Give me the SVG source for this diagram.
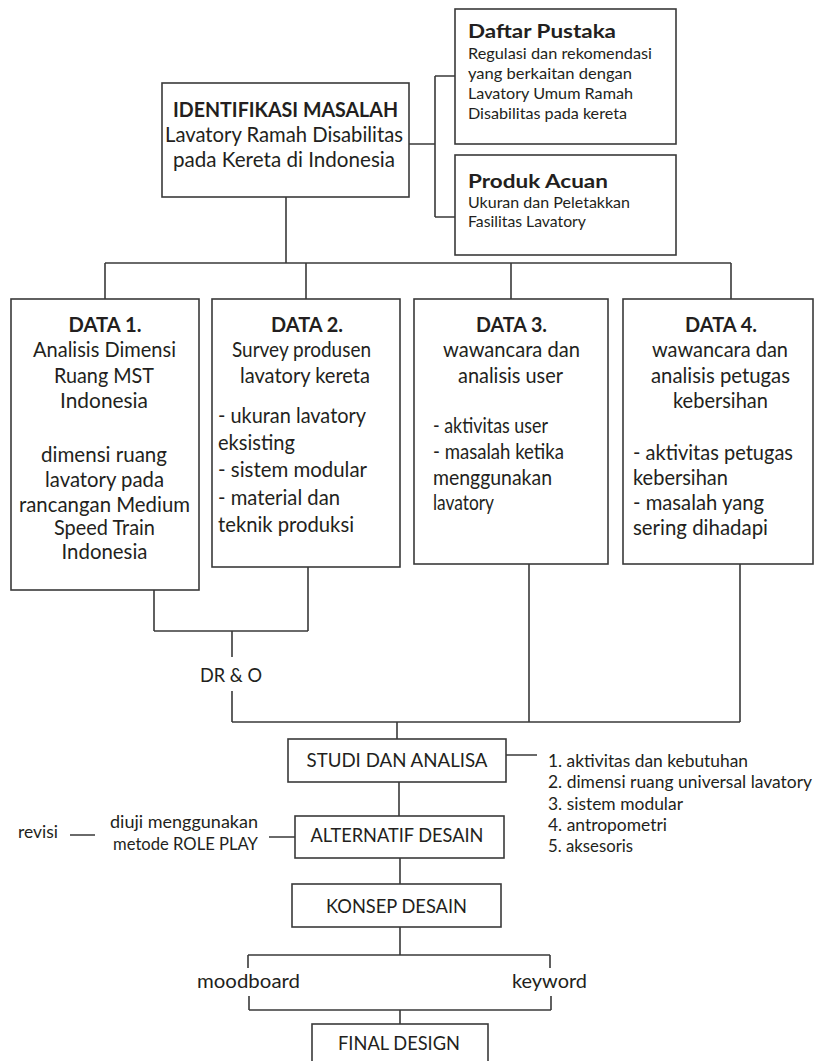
<svg xmlns="http://www.w3.org/2000/svg" width="815" height="1061" viewBox="0 0 815 1061">
<style>
  .box { fill: #ffffff; stroke: #3a3a3a; stroke-width: 1.6; }
  .ln { fill: none; stroke: #3a3a3a; stroke-width: 1.6; }
  text { font-family: Lato, "Open Sans", "Liberation Sans", sans-serif; fill: #231f20; }
  .b { font-weight: 700; }
  .c { text-anchor: middle; }
  .t19 { font-size: 20.5px; }
  .t18 { font-size: 20.5px; }
  .tt { font-size: 19.5px; }
  .t14 { font-size: 16px; }
  .t17 { font-size: 19px; }
  .t16 { font-size: 17.5px; }
  .tm { font-size: 19.5px; }
</style>
<rect width="815" height="1061" fill="#ffffff"/>

<g id="connectors">
  <path class="ln" d="M409,144 H435 M435,76 V217 M435,76 H455 M435,217 H455"/>
  <path class="ln" d="M286,197 V263 M105,263 H731 M105,263 V299 M306,263 V299 M511,263 V299 M731,263 V299"/>
  <path class="ln" d="M154,590 V631 M308,567 V631 M154,631 H308 M232,631 V657 M232,691 V722 M232,722 H740 M529,564 V722 M740,564 V722 M397,722 V739"/>
  <path class="ln" d="M506,755 H537 M399,782 V816 M269,837 H295 M70,835 H95 M400,858 V884"/>
  <path class="ln" d="M400,927 V955 M248,955 H550 M248,955 V968 M550,955 V968 M249,996 V1010 M551,996 V1010 M249,1010 H551 M400,1010 V1024"/>
</g>

<g id="identifikasi">
  <rect class="box" x="162" y="83" width="247" height="114"/>
  <text class="b c t19" x="285.5" y="117" textLength="225" lengthAdjust="spacingAndGlyphs">IDENTIFIKASI MASALAH</text>
  <text class="c t19" x="284" y="142" textLength="238" lengthAdjust="spacingAndGlyphs">Lavatory Ramah Disabilitas</text>
  <text class="c t19" x="284" y="167" textLength="222" lengthAdjust="spacingAndGlyphs">pada Kereta di Indonesia</text>
</g>

<g id="daftar-pustaka">
  <rect class="box" x="455" y="9" width="221" height="135"/>
  <text class="b tt" x="468" y="38" textLength="148" lengthAdjust="spacingAndGlyphs">Daftar Pustaka</text>
  <text class="t14" x="468" y="59" textLength="184" lengthAdjust="spacingAndGlyphs">Regulasi dan rekomendasi</text>
  <text class="t14" x="468" y="79" textLength="164" lengthAdjust="spacingAndGlyphs">yang berkaitan dengan</text>
  <text class="t14" x="468" y="99" textLength="165" lengthAdjust="spacingAndGlyphs">Lavatory Umum Ramah</text>
  <text class="t14" x="468" y="119" textLength="159" lengthAdjust="spacingAndGlyphs">Disabilitas pada kereta</text>
</g>

<g id="produk-acuan">
  <rect class="box" x="455" y="155" width="221" height="100"/>
  <text class="b tt" x="468" y="188" textLength="140" lengthAdjust="spacingAndGlyphs">Produk Acuan</text>
  <text class="t14" x="468" y="208" textLength="162" lengthAdjust="spacingAndGlyphs">Ukuran dan Peletakkan</text>
  <text class="t14" x="468" y="227" textLength="118" lengthAdjust="spacingAndGlyphs">Fasilitas Lavatory</text>
</g>

<g id="data1">
  <rect class="box" x="11" y="299" width="188" height="291"/>
  <text class="b c t19" x="105" y="332" textLength="73" lengthAdjust="spacingAndGlyphs">DATA 1.</text>
  <text class="c t18" x="104.5" y="357" textLength="143" lengthAdjust="spacingAndGlyphs">Analisis Dimensi</text>
  <text class="c t18" x="104" y="383" textLength="100" lengthAdjust="spacingAndGlyphs">Ruang MST</text>
  <text class="c t18" x="104" y="408" textLength="88" lengthAdjust="spacingAndGlyphs">Indonesia</text>
  <text class="c t18" x="104" y="462" textLength="126" lengthAdjust="spacingAndGlyphs">dimensi ruang</text>
  <text class="c t18" x="104.5" y="487" textLength="119" lengthAdjust="spacingAndGlyphs">lavatory pada</text>
  <text class="c t18" x="104.5" y="512" textLength="171" lengthAdjust="spacingAndGlyphs">rancangan Medium</text>
  <text class="c t18" x="104.5" y="535" textLength="101" lengthAdjust="spacingAndGlyphs">Speed Train</text>
  <text class="c t18" x="104.5" y="559" textLength="86" lengthAdjust="spacingAndGlyphs">Indonesia</text>
</g>

<g id="data2">
  <rect class="box" x="212" y="299" width="188" height="268"/>
  <text class="b c t19" x="307" y="332" textLength="72" lengthAdjust="spacingAndGlyphs">DATA 2.</text>
  <text class="c t18" x="301.5" y="357" textLength="139" lengthAdjust="spacingAndGlyphs">Survey produsen</text>
  <text class="c t18" x="305" y="383" textLength="130" lengthAdjust="spacingAndGlyphs">lavatory kereta</text>
  <text class="t18" x="218" y="423" textLength="148" lengthAdjust="spacingAndGlyphs">- ukuran lavatory</text>
  <text class="t18" x="218" y="450" textLength="77" lengthAdjust="spacingAndGlyphs">eksisting</text>
  <text class="t18" x="218" y="477" textLength="149" lengthAdjust="spacingAndGlyphs">- sistem modular</text>
  <text class="t18" x="218" y="505" textLength="122" lengthAdjust="spacingAndGlyphs">- material dan</text>
  <text class="t18" x="218" y="532" textLength="136" lengthAdjust="spacingAndGlyphs">teknik produksi</text>
</g>

<g id="data3">
  <rect class="box" x="414" y="299" width="194" height="265"/>
  <text class="b c t19" x="511.5" y="332" textLength="71" lengthAdjust="spacingAndGlyphs">DATA 3.</text>
  <text class="c t18" x="511.5" y="357" textLength="137" lengthAdjust="spacingAndGlyphs">wawancara dan</text>
  <text class="c t18" x="510.5" y="383" textLength="105" lengthAdjust="spacingAndGlyphs">analisis user</text>
  <text class="t18" x="433" y="433" textLength="115" lengthAdjust="spacingAndGlyphs">- aktivitas user</text>
  <text class="t18" x="433" y="459" textLength="131" lengthAdjust="spacingAndGlyphs">- masalah ketika</text>
  <text class="t18" x="433" y="485" textLength="119" lengthAdjust="spacingAndGlyphs">menggunakan</text>
  <text class="t18" x="433" y="510" textLength="61" lengthAdjust="spacingAndGlyphs">lavatory</text>
</g>

<g id="data4">
  <rect class="box" x="623" y="299" width="190" height="265"/>
  <text class="b c t19" x="721" y="332" textLength="72" lengthAdjust="spacingAndGlyphs">DATA 4.</text>
  <text class="c t18" x="720" y="357" textLength="136" lengthAdjust="spacingAndGlyphs">wawancara dan</text>
  <text class="c t18" x="720.5" y="383" textLength="139" lengthAdjust="spacingAndGlyphs">analisis petugas</text>
  <text class="c t18" x="720.5" y="408" textLength="95" lengthAdjust="spacingAndGlyphs">kebersihan</text>
  <text class="t18" x="633" y="460" textLength="160" lengthAdjust="spacingAndGlyphs">- aktivitas petugas</text>
  <text class="t18" x="633" y="485" textLength="95" lengthAdjust="spacingAndGlyphs">kebersihan</text>
  <text class="t18" x="633" y="510" textLength="131" lengthAdjust="spacingAndGlyphs">- masalah yang</text>
  <text class="t18" x="633" y="535" textLength="135" lengthAdjust="spacingAndGlyphs">sering dihadapi</text>
</g>

<g id="dro">
  <text class="c tm" x="231" y="682" textLength="62" lengthAdjust="spacingAndGlyphs">DR &amp; O</text>
</g>

<g id="studi">
  <rect class="box" x="288" y="739" width="218" height="43"/>
  <text class="c t17" x="397" y="767" textLength="181" lengthAdjust="spacingAndGlyphs">STUDI DAN ANALISA</text>
</g>

<g id="studi-list">
  <text class="t16" x="548" y="767" textLength="200" lengthAdjust="spacingAndGlyphs">1. aktivitas dan kebutuhan</text>
  <text class="t16" x="548" y="788" textLength="264" lengthAdjust="spacingAndGlyphs">2. dimensi ruang universal lavatory</text>
  <text class="t16" x="548" y="810" textLength="135" lengthAdjust="spacingAndGlyphs">3. sistem modular</text>
  <text class="t16" x="548" y="831" textLength="119" lengthAdjust="spacingAndGlyphs">4. antropometri</text>
  <text class="t16" x="548" y="852" textLength="85" lengthAdjust="spacingAndGlyphs">5. aksesoris</text>
</g>

<g id="alternatif">
  <rect class="box" x="295" y="816" width="209" height="42"/>
  <text class="c t17" x="397" y="842" textLength="173" lengthAdjust="spacingAndGlyphs">ALTERNATIF DESAIN</text>
</g>

<g id="uji">
  <text class="c t16" x="184" y="828" textLength="148" lengthAdjust="spacingAndGlyphs">diuji menggunakan</text>
  <text class="c t16" x="185.5" y="850" textLength="145" lengthAdjust="spacingAndGlyphs">metode ROLE PLAY</text>
</g>

<g id="revisi">
  <text class="t16" x="18" y="838" textLength="40" lengthAdjust="spacingAndGlyphs">revisi</text>
</g>

<g id="konsep">
  <rect class="box" x="292" y="884" width="209" height="43"/>
  <text class="c t17" x="396.5" y="913" textLength="141" lengthAdjust="spacingAndGlyphs">KONSEP DESAIN</text>
</g>

<g id="moodboard">
  <text class="c tm" x="248.5" y="988" textLength="103" lengthAdjust="spacingAndGlyphs">moodboard</text>
</g>

<g id="keyword">
  <text class="c tm" x="549.5" y="988" textLength="75" lengthAdjust="spacingAndGlyphs">keyword</text>
</g>

<g id="final">
  <rect class="box" x="312" y="1024" width="176" height="45"/>
  <text class="c t17" x="399" y="1050" textLength="122" lengthAdjust="spacingAndGlyphs">FINAL DESIGN</text>
</g>
</svg>
